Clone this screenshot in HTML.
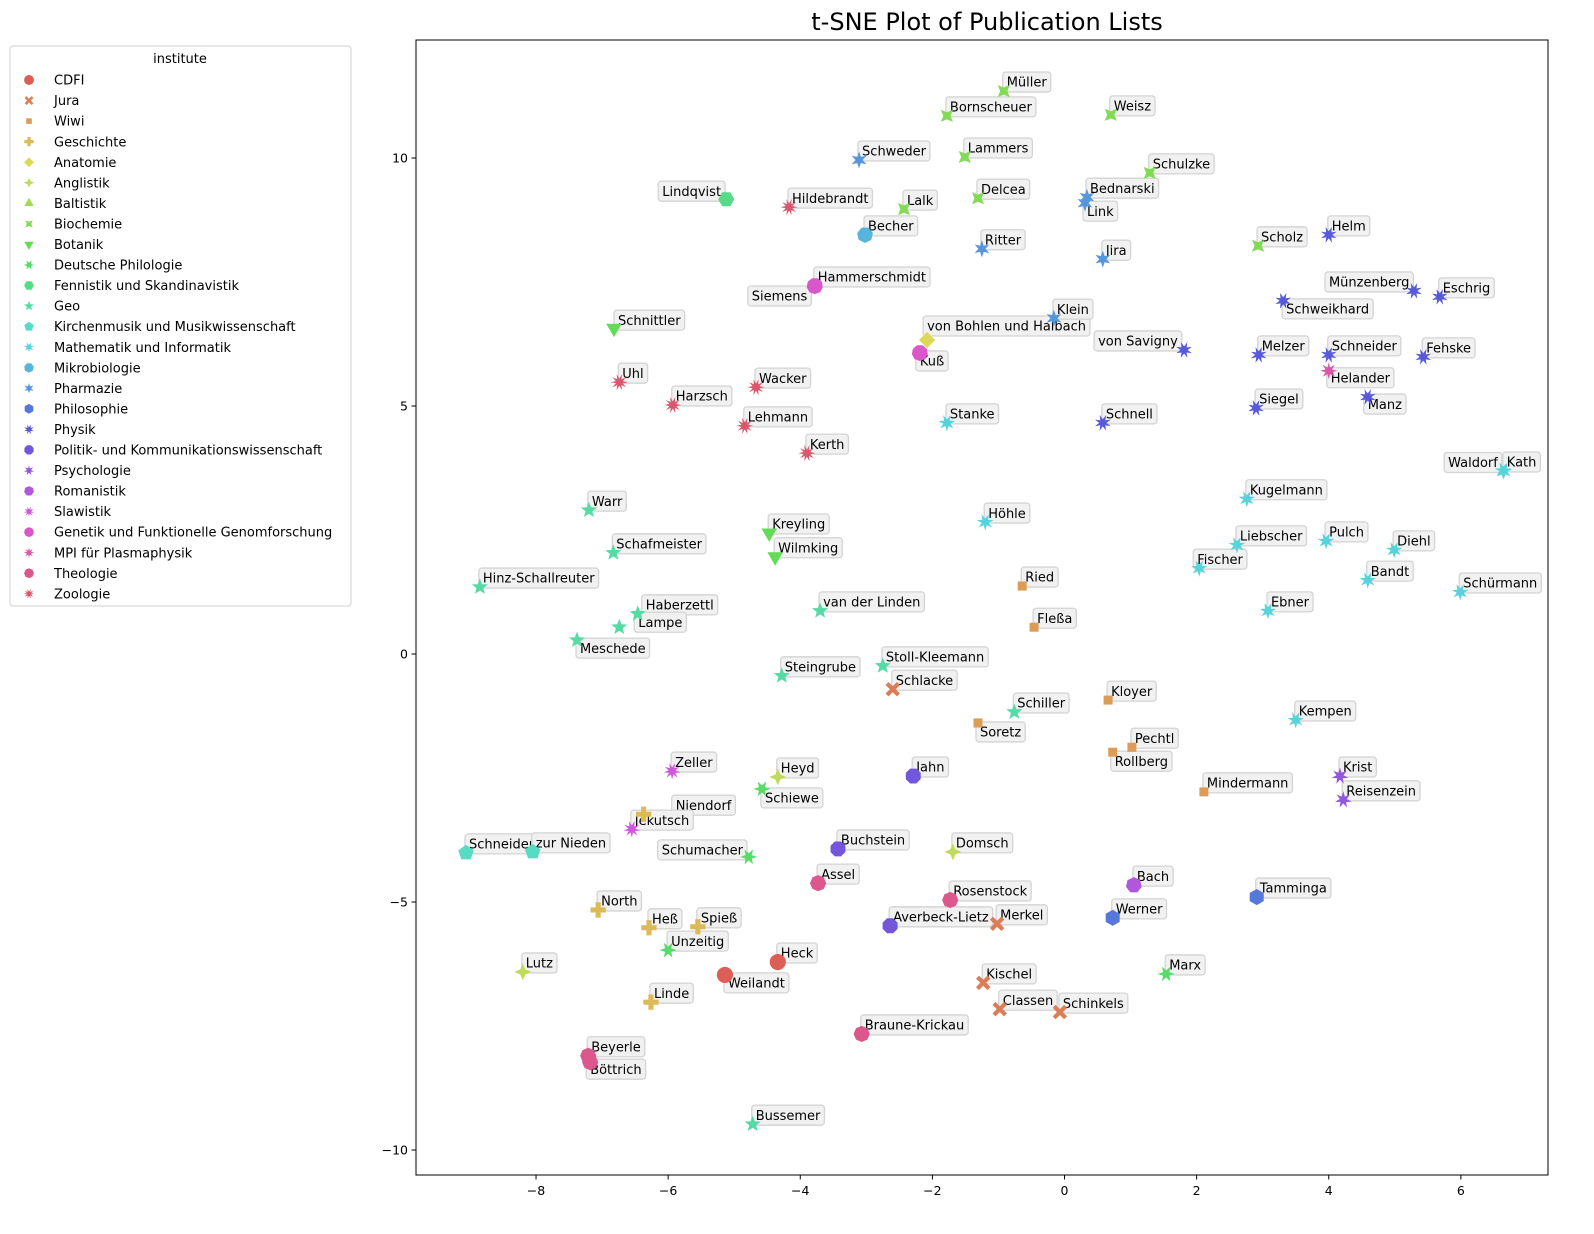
<!DOCTYPE html>
<html><head><meta charset="utf-8"><style>
body{margin:0;background:#fff;}
svg text{font-family:"DejaVu Sans","Liberation Sans",sans-serif;}
</style></head><body>
<svg id="chart" width="1594" height="1229" viewBox="0 0 1594 1229" xmlns="http://www.w3.org/2000/svg">
<rect width="1594" height="1229" fill="#fff"/>
<text x="987" y="30" font-size="24" text-anchor="middle">t-SNE Plot of Publication Lists</text>
<g id="plot"></g>
<rect x="416" y="40" width="1132" height="1135" fill="none" stroke="#000" stroke-width="1"/>
<g id="axes"></g>
<g id="legend"></g>
</svg>
<script>
const institutes = ["CDFI","Jura","Wiwi","Geschichte","Anatomie","Anglistik","Baltistik","Biochemie","Botanik","Deutsche Philologie","Fennistik und Skandinavistik","Geo","Kirchenmusik und Musikwissenschaft","Mathematik und Informatik","Mikrobiologie","Pharmazie","Philosophie","Physik","Politik- und Kommunikationswissenschaft","Psychologie","Romanistik","Slawistik","Genetik und Funktionelle Genomforschung","MPI für Plasmaphysik","Theologie","Zoologie"];
const names = ["Weilandt","Heck","Schlacke","Merkel","Kischel","Classen","Schinkels","Ried","Fleßa","Soretz","Kloyer","Pechtl","Rollberg","Mindermann","Niendorf","North","Heß","Spieß","Linde","von Bohlen und Halbach","Heyd","Domsch","Lutz","Müller","Bornscheuer","Weisz","Lammers","Schulzke","Delcea","Lalk","Scholz","Schnittler","Kreyling","Wilmking","Schiewe","Schumacher","Unzeitig","Marx","Lindqvist","Warr","Schafmeister","Hinz-Schallreuter","Haberzettl","Lampe","Meschede","van der Linden","Stoll-Kleemann","Steingrube","Schiller","Bussemer","Schneider","zur Nieden","Höhle","Stanke","Kugelmann","Liebscher","Fischer","Pulch","Diehl","Bandt","Schürmann","Ebner","Kempen","Kath","Waldorf","Becher","Schweder","Bednarski","Link","Ritter","Jira","Klein","Werner","Tamminga","Helm","Münzenberg","Eschrig","Schweikhard","von Savigny","Melzer","Schneider","Fehske","Siegel","Manz","Schnell","Jahn","Buchstein","Averbeck-Lietz","Krist","Reisenzein","Bach","Zeller","Jekutsch","Hammerschmidt","Siemens","Kuß","Helander","Assel","Rosenstock","Braune-Krickau","Beyerle","Böttrich","Hildebrandt","Uhl","Harzsch","Wacker","Lehmann","Kerth"];
const groups = [0,0,1,1,1,1,1,2,2,2,2,2,2,2,3,3,3,3,3,4,5,5,5,7,7,7,7,7,7,7,7,8,8,8,9,9,9,9,10,11,11,11,11,11,11,11,11,11,11,11,12,12,13,13,13,13,13,13,13,13,13,13,13,13,13,14,15,15,15,15,15,15,16,16,17,17,17,17,17,17,17,17,17,17,17,18,18,18,19,19,20,21,21,22,22,22,23,24,24,24,24,24,25,25,25,25,25,25];
const xs = [-5.14,-4.34,-2.60,-1.02,-1.23,-0.98,-0.07,-0.64,-0.46,-1.31,0.66,1.02,0.73,2.11,-6.37,-7.06,-6.29,-5.55,-6.26,-2.08,-4.34,-1.69,-8.20,-0.92,-1.78,0.70,-1.51,1.29,-1.31,-2.43,2.93,-6.82,-4.47,-4.38,-4.58,-4.78,-6.00,1.54,-5.12,-7.20,-6.83,-8.85,-6.46,-6.74,-7.38,-3.70,-2.75,-4.28,-0.76,-4.72,-9.06,-8.05,-1.20,-1.78,2.76,2.61,2.04,3.96,4.99,4.59,5.99,3.08,3.50,6.65,6.64,-3.02,-3.11,0.34,0.31,-1.25,0.58,-0.16,0.73,2.91,4.00,5.29,5.68,3.31,1.81,2.94,4.00,5.43,2.90,4.59,0.58,-2.29,-3.43,-2.64,4.17,4.22,1.05,-5.94,-6.55,-3.78,-3.78,-2.19,4.00,-3.73,-1.73,-3.07,-7.21,-7.18,-4.17,-6.74,-5.93,-4.67,-4.84,-3.90];
const ys = [-6.47,-6.21,-0.71,-5.44,-6.63,-7.16,-7.22,1.37,0.54,-1.39,-0.93,-1.88,-1.98,-2.78,-3.23,-5.16,-5.52,-5.50,-7.02,6.33,-2.48,-3.99,-6.41,11.35,10.85,10.87,10.02,9.70,9.19,8.97,8.23,6.57,2.44,1.96,-2.72,-4.09,-5.97,-6.45,9.17,2.90,2.04,1.35,0.81,0.54,0.28,0.87,-0.24,-0.44,-1.17,-9.48,-4.01,-3.99,2.66,4.66,3.13,2.20,1.73,2.28,2.10,1.49,1.25,0.87,-1.33,3.69,3.70,8.45,9.96,9.21,9.09,8.17,7.96,6.77,-5.32,-4.90,8.45,7.32,7.20,7.12,6.13,6.03,6.03,5.99,4.96,5.18,4.66,-2.46,-3.93,-5.48,-2.46,-2.94,-4.66,-2.36,-3.53,7.42,7.42,6.07,5.71,-4.62,-4.96,-7.66,-8.10,-8.23,9.01,5.48,5.02,5.38,4.60,4.05];
const xTicks = [-8,-6,-4,-2,0,2,4,6];
const yTicks = [-10,-5,0,5,10];
// label offsets (layout, pixels): [dx of text left, dy of text center]
const labelOffsets = {"Weilandt":[3,8],"Schumacher":[-87,-7],"Lindqvist":[-64,-8],"Hinz-Schallreuter":[3,-9],"Haberzettl":[8,-9],"Lampe":[19,-5],"Meschede":[3,8],"Schiewe":[3,9],"Soretz":[2,9],"Rollberg":[2,9],"Niendorf":[32,-9],"Link":[2,8],"Münzenberg":[-85,-9],"Schweikhard":[3,8],"von Savigny":[-86,-9],"Manz":[0,7],"Kuß":[0,8],"Helander":[2,7],"Böttrich":[0,7],"Siemens":[-63,10],"Waldorf":[-55,-8],"Fischer":[-2,-9],"von Bohlen und Halbach":[0,-14],"Schnittler":[4,-8]};
function X(v){return 1064.5+v*66.06;}
function Y(v){return 654-v*49.6;}
const NS="http://www.w3.org/2000/svg";
function mk(t,a,p){const e=document.createElementNS(NS,t);for(const k in a)e.setAttribute(k,a[k]);p.appendChild(e);return e;}
function color(i){return "hsl("+(((i/26)+0.01)*360)+",65%,60%)";}
const markers=[["o"],["X"],["poly",4,45],["P"],["poly",4,0],["star",4,0],["poly",3,0],["star",4,45],["poly",3,180],["star",6,30],["poly",6,30],["star",5,0],["poly",5,0],["star",7,25.7],["poly",7,25.7],["star",6,0],["poly",6,0],["star",8,22.5],["poly",8,22.5],["star",7,0],["poly",7,0],["star",9,20],["poly",9,20],["star",8,0],["poly",8,0],["star",10,18]];
function markerPath(i,cx,cy,r){
  const m=markers[i];
  if(m[0]==="o"){return null;}
  if(m[0]==="X"){const a=r*0.35,b=r*0.85;let pts=[];
    const base=[[0,a],[b-a,b],[b,b-a],[a,0]];
    for(let q=0;q<4;q++){const ang=q*Math.PI/2;for(const [u,v] of base){pts.push([cx+u*Math.cos(ang)-v*Math.sin(ang),cy+u*Math.sin(ang)+v*Math.cos(ang)]);}}
    return "M"+pts.map(p=>p[0].toFixed(1)+","+p[1].toFixed(1)).join("L")+"Z";}
  if(m[0]==="P"){const a=r*0.3,b=r*0.9;const p=[[-a,-b],[a,-b],[a,-a],[b,-a],[b,a],[a,a],[a,b],[-a,b],[-a,a],[-b,a],[-b,-a],[-a,-a]];
    return "M"+p.map(q=>(cx+q[0]).toFixed(1)+","+(cy+q[1]).toFixed(1)).join("L")+"Z";}
  const n=m[1],rot=m[2]*Math.PI/180;let pts=[];
  if(m[0]==="poly"){const rr=(n===4&&m[2]===45)?r*0.75:(n===3?r*1.05:r*0.95);
    for(let k=0;k<n;k++){const a=rot+k*2*Math.PI/n;pts.push([cx+rr*Math.sin(a),cy-rr*Math.cos(a)]);}}
  else{for(let k=0;k<2*n;k++){const a=rot+k*Math.PI/n;const rr=k%2?r*0.42:r;pts.push([cx+rr*Math.sin(a),cy-rr*Math.cos(a)]);}}
  return "M"+pts.map(p=>p[0].toFixed(1)+","+p[1].toFixed(1)).join("L")+"Z";
}
function drawMarker(g,i,cx,cy,r){
  const p=markerPath(i,cx,cy,r);let e;
  if(p===null){e=mk("circle",{cx:cx,cy:cy,r:r*0.95,fill:color(i)},g);}
  else e=mk("path",{d:p,fill:color(i)},g);
  return e;
}
const plot=document.getElementById("plot");
const lg=mk("g",{},plot), mg=mk("g",{},plot);
for(let k=0;k<names.length;k++){
  const cx=X(xs[k]),cy=Y(ys[k]);
  const m=drawMarker(mg,groups[k],cx,cy,8.5);
  
  
  const off=labelOffsets[names[k]]||[3,-9];
  const g=mk("g",{},lg);
  
  
  const box=mk("rect",{fill:"#f0f0f0","fill-opacity":"0.9",stroke:"#d4d4d4","stroke-width":"1.3",rx:3},g);
  const t=mk("text",{x:cx+off[0],y:cy+off[1]+4.7,"font-size":"13"},g);
  t.textContent=names[k];
  const w=t.getComputedTextLength();
  box.setAttribute("x",cx+off[0]-4);box.setAttribute("y",cy+off[1]-10);
  box.setAttribute("width",w+8);box.setAttribute("height",20);
}
const axes=document.getElementById("axes");
for(const v of xTicks){const x=X(v);
  const l=mk("line",{x1:x,x2:x,y1:1175,y2:1179.5,stroke:"#000"},axes);
  
  
  const t=mk("text",{x:x,y:1195,"font-size":"12.5","text-anchor":"middle"},axes);t.textContent=(v<0?"\u2212"+(-v):v);
  
  }
for(const v of yTicks){const y=Y(v);
  const l=mk("line",{x1:411.5,x2:416,y1:y,y2:y,stroke:"#000"},axes);
  
  
  const t=mk("text",{x:408,y:y+4.5,"font-size":"12.5","text-anchor":"end"},axes);t.textContent=(v<0?"\u2212"+(-v):v);
  
  }
const leg=document.getElementById("legend");
const lb=mk("rect",{x:10,y:46,width:341,height:560,rx:3,fill:"#fff","fill-opacity":"0.8",stroke:"#d0d0d0"},leg);


const lt=mk("text",{x:180,y:63,"font-size":"13","text-anchor":"middle"},leg);lt.textContent="institute";


for(let i=0;i<institutes.length;i++){
  const y=80+i*20.55;
  const g=mk("g",{},leg);
  
  
  drawMarker(g,i,29,y,5.2);
  const t=mk("text",{x:54,y:y+4.6,"font-size":"13"},g);t.textContent=institutes[i];
}
</script>
</body></html>
